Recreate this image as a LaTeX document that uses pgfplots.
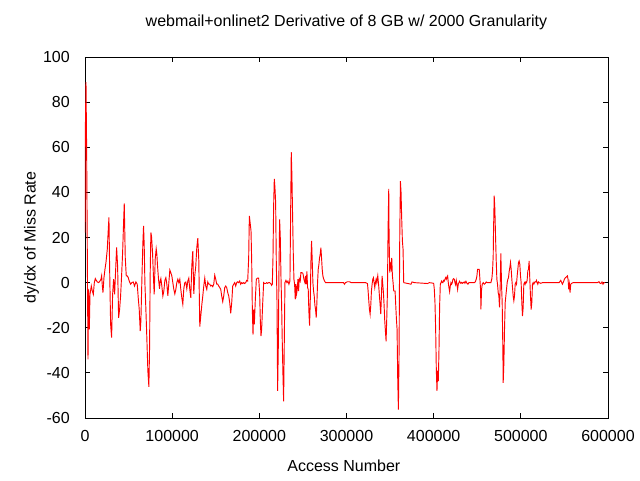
\documentclass[border=0pt]{standalone}
\usepackage{fontspec}
\setmainfont{Liberation Sans}
\usepackage{pgfplots}
\pgfplotsset{compat=1.18}
\begin{document}
\fontsize{12}{14}\selectfont
\begin{tikzpicture}
\useasboundingbox (-63.75pt,-46.5pt) rectangle (416.25pt,313.5pt);
\begin{axis}[
  scale only axis, width=392.25pt, height=270.75pt,
  at={(0,0)}, anchor=south west,
  xmin=0, xmax=600000, ymin=-60, ymax=100,
  xtick={0,100000,...,600000}, ytick={-60,-40,...,100},
  scaled x ticks=false,
  /pgf/number format/assume math mode=true,
  xticklabel style={/pgf/number format/fixed, /pgf/number format/1000 sep={}, anchor=north, inner sep=0pt, yshift=-9pt},
  yticklabel style={anchor=east, inner sep=0pt, xshift=-11.25pt},
  tick align=inside, major tick length=3.5pt,
  axis line style={line width=0.6pt},
  every tick/.style={black, line width=0.6pt},
  title={webmail+onlinet2 Derivative of 8 GB w/ 2000 Granularity},
  title style={at={(axis description cs:0.5,1.0624)}, anchor=base, yshift=0pt, inner sep=0pt},
  xlabel={Access Number},
  xlabel style={at={(axis description cs:0.495,-0.148)}, anchor=base, inner sep=0pt},
  ylabel={dy/dx of Miss Rate},
  ylabel style={at={(axis description cs:-0.0946,0.5)}, anchor=base, rotate=0, inner sep=0pt},
]
\addplot[red, line width=0.7pt, mark=none] coordinates {
(0,22.2) (382,66.7) (1145,88.9) (1909,57.8) (3435,-34) (4199,-3) (4962,-20.7) (5726,-5.2)
(7252,-1.5) (8397,-3.7) (9543,-5.2) (10688,0) (11833,1.8) (12978,1) (14123,0.3) (15650,0)
(17177,0.7) (18322,1.5) (19085,3) (19848,-1.2) (20612,-4.4) (21757,2.2) (22902,5.9) (24047,8.9)
(25574,14.8) (26719,23.7) (27482,28.9) (28246,6.7) (29391,-18.5) (30536,-24.4) (31681,-5.2)
(32826,1.5) (33971,-5.2) (35116,5.2) (36262,15.6) (37407,7.4) (38552,-15.6) (39697,-11.9)
(40842,-5.9) (41987,3) (43132,13.0) (44277,26.7) (45041,35.1) (46186,11.1) (47331,3) (48476,3)
(49621,2.2) (50766,0.7) (52293,-0.7) (53820,0) (55347,0.3) (56873,-1.5) (58400,0.3) (59927,-0.7)
(61072,-6.7) (62217,-11.9) (63362,-21.5) (64126,-17) (65271,1.5) (66416,17.8) (67179,25.2)
(67943,16.3) (68706,0) (69851,-11.9) (70996,-25.2) (72141,-39.3) (73286,-46.2) (74050,-29.6)
(74813,4.4) (75577,22.2) (76340,20.4) (77485,13.3) (78630,1.5) (79394,-5.2) (80539,10.4)
(81684,15.0) (82448,12.6) (83211,7.4) (84356,1.5) (85501,-2.7) (86265,0.7) (87028,1.8)
(88173,-1.5) (89318,-5.9) (90463,-3.7) (91608,1) (92753,2.2) (93898,-0.7) (95044,-5.9) (96189,0)
(97326,5.6) (98471,4.4) (99616,3) (100761,0) (101906,-3) (103052,-5) (104197,-3) (105342,0)
(106487,1.5) (107632,0) (108777,1.5) (109922,-3) (111067,-6.7) (112212,-9.6) (113357,-2.7)
(114503,0) (115648,0.3) (116793,-2.7) (117938,0.7) (119083,2) (120228,-3) (121373,-6.7)
(122518,7.4) (123663,14) (124808,-5) (125954,3) (127099,7.4) (128244,15.5) (129389,19.7)
(130534,10) (131679,-19.5) (132824,-14.8) (133969,-10) (135114,-6) (136259,-1.5) (137405,2)
(138550,-1.5) (139695,-3) (140840,0.3) (141985,-0.7) (143130,-0.7) (144275,-1.5) (145420,-1.2)
(146565,-1.8) (147710,-0.7) (148856,3.3) (150001,1.5) (151146,-0.7) (152291,-0.7) (153436,-1.5)
(154581,-2.2) (155726,-3) (156871,-6) (158016,-8.4) (159161,-5.9) (160307,-2.2) (161452,-1.5)
(162597,-2.2) (163742,-4.4) (164887,-5.9) (166032,-8.9) (167177,-13.6) (168322,-8.9) (169467,-1.5)
(170612,-0.7) (171758,0) (172903,-1.5) (174048,0) (175193,0.4) (176338,0) (177483,0.7)
(178628,-0.7) (179773,0) (180918,-0.4) (182063,0) (183209,-0.4) (184354,0) (185499,1) (186644,0.7)
(187781,11) (188544,29.6) (189308,27) (190453,23) (191216,10) (191980,-12) (192743,-23)
(193507,-12) (194270,-18.5) (195415,-7.4) (196560,1.5) (197705,2) (199232,2) (200377,-5)
(201140,-17) (201904,-23.7) (202667,-20.7) (203812,-9.6) (204957,0) (206103,-0.4) (207248,-0.4)
(208393,0) (209538,-0.3) (210683,0) (211828,0) (212973,-0.4) (214118,-1.2) (214882,-0.7)
(215645,10.7) (216409,34) (217172,46) (217936,42) (218699,35.6) (219463,9) (220226,-7.4)
(220990,-48) (221753,-29) (222517,5) (223280,28) (224044,20) (224807,3) (225571,-10)
(226334,-26.7) (227098,-40.7) (227861,-52.6) (228625,-26.7) (229388,0) (230533,1) (231678,0)
(232824,0.7) (233969,-0.7) (235114,0.7) (235877,29.6) (236641,57.8) (237404,47) (238168,29.6)
(238931,13.3) (239695,1.5) (240458,-0.7) (241222,-7.4) (241985,-0.7) (242749,-5) (243512,-3)
(244276,1.5) (245039,-3.7) (245803,1.8) (246948,0.7) (247711,4.4) (248856,4.4) (250001,4.1)
(251146,1.5) (252291,0) (253055,3) (253818,-0.7) (254582,5) (255345,-2.2) (256109,-3)
(256872,-13) (257636,-19) (258399,-8.9) (259163,8.9) (259926,18.5) (260690,9.6) (261453,0)
(262217,-3.7) (262980,-5.9) (263744,-10) (264507,-11.9) (265271,-15.5) (266034,-8.9) (266798,0)
(267561,5.9) (268325,8) (269088,11) (269852,12.6) (270615,15.5) (271379,11) (272142,5.9)
(272906,3) (273669,1.8) (274814,0.7) (275959,0) (296557,0) (297703,-0.7) (298848,0)
(301138,0.4) (303428,0.4) (305337,0) (321750,0) (324040,-0.4) (324803,-3.7) (325567,-8)
(326330,-11.9) (327094,-14) (327857,-10) (328621,-3.7) (329384,-0.7) (330148,1.5) (330911,2.2)
(331675,0) (332438,-2.2) (333202,0) (333965,1.5) (334729,0) (335874,3) (337019,-1.8)
(337783,-5.9) (338546,-9.6) (339310,-14) (340073,-5.9) (340837,3) (341600,-0.7) (342364,-4.4)
(343127,-10) (343891,-17) (344654,-21.5) (345418,-26) (346181,-16) (346945,-4.4) (347708,23.7)
(348472,41.5) (348854,20.7) (349617,4.4) (350381,8.9) (351144,6.7) (351908,11) (352671,3)
(353435,0) (354198,-3.7) (354962,-3.7) (355725,-3.7) (356489,-10) (357252,-16) (358016,-20.7)
(358779,-43) (359543,-56.3) (360306,-31) (361070,19.3) (361833,45) (362597,40) (363360,28)
(364124,18.5) (364887,14.8) (365651,0) (374035,-0.7) (375180,0.3) (377852,0) (393120,-0.4)
(395028,0) (399990,-0.3) (400754,-3) (401517,-8.9) (402281,-20.7) (403044,-38.5) (403808,-48)
(404571,-39) (405335,-43.7) (406098,-30) (406862,-10) (407625,-0.7) (408389,0) (409152,0.7)
(409916,0) (410679,0) (411443,1) (412206,0.7) (412970,1.5) (413733,2.2) (414497,1.5)
(415260,2.5) (416024,3) (416787,0) (417551,-2.2) (418314,-4) (419078,-1.5) (419841,0)
(420605,-0.7) (421368,0) (422132,1.5) (422895,1.8) (423659,1.5) (424422,0) (425186,-0.9)
(425949,1) (426713,-0.7) (427476,-3) (428240,-0.7) (429003,0) (429767,0.6) (430530,0)
(431294,-0.3) (432057,0.1) (433202,-0.3) (433966,0) (435111,0.3) (435875,-0.3) (437020,0.6)
(438165,-0.3) (439310,-0.7) (440455,0) (446558,0) (447703,0.3) (448848,1.5) (449612,3)
(450375,5.9) (452283,5.9) (453047,1.5) (453810,-3) (454192,-11.9) (454955,-3) (455719,-0.7)
(456864,0) (458009,-0.7) (459154,-0.4) (460299,0.3) (461444,0) (465635,0) (466780,1.8)
(467543,5) (468307,11.9) (468688,23) (469452,38.5) (470215,32.6) (470979,20.7) (471742,10)
(472506,1.5) (473269,-0.7) (474033,-4.4) (474796,-5.9) (475560,-11) (476323,-1.5) (477087,13)
(477850,-0.7) (478614,-8.9) (479377,-29.6) (479759,-44.4) (480522,-36) (481286,-20.7)
(482049,-8.9) (482813,-5.9) (483576,-3) (484340,0) (485103,1.5) (485867,2.2) (486630,5)
(487394,6.7) (488157,8.9) (488921,5.9) (489684,1.5) (490448,-2.2) (491211,-5.9) (491975,-8)
(492738,-5.9) (493502,-0.7) (494265,0) (495029,-0.7) (495792,3) (496556,5.9) (497319,8.9)
(498083,9.6) (498846,8.1) (499610,3) (500373,0) (501137,-8.9) (501900,-14.8) (502664,-11)
(503427,-0.7) (504191,0) (504954,-0.7) (505718,0.3) (506481,0) (507245,1) (508008,5.2)
(508772,5.9) (509535,9.6) (510299,1.5) (511062,-5.9) (511826,-11.9) (512589,-8.9) (513353,-0.7)
(514116,0) (514880,-0.7) (515643,0) (516407,0.4) (517170,0.3) (517934,1) (518697,0)
(519461,-0.7) (520224,0.3) (520988,0) (522896,-0.3) (524805,0) (543891,0) (545793,1)
(546556,0.3) (547700,-0.7) (548845,0.3) (549990,1.5) (551136,2.2) (552281,2.5) (553426,3)
(554189,1.5) (554953,-3) (555716,-0.7) (556480,-4.4) (557243,-0.7) (558388,-0.3) (559915,0)
(587780,0) (589690,0.4) (590835,-0.3) (591980,-0.4) (593125,0.3) (594270,-0.7) (595416,0)
(596561,0)
};
\end{axis}
\end{tikzpicture}
\end{document}
